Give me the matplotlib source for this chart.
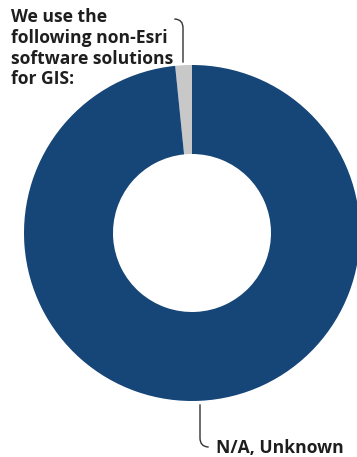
import matplotlib.pyplot as plt

# donut data
labels = ["We use the\nfollowing non-Esri\nsoftware solutions\nfor GIS:", "N/A, Unknown"]
values = [1.6, 98.4]
colors = ["#c8c8c8", "#154677"]

W, H = 357, 457
fig = plt.figure(figsize=(W / 100, H / 100), dpi=100)
ax = fig.add_axes([0, 0, 1, 1])

cx, cy = 192, H - 233
r_out, r_in = 168, 79
wedges, _ = ax.pie(values, colors=colors, startangle=90, counterclock=True,
                   radius=r_out, center=(cx, cy),
                   wedgeprops=dict(width=r_out - r_in, linewidth=0))

ax.set_xlim(0, W)
ax.set_ylim(0, H)
ax.set_aspect("equal")
ax.axis("off")

txt = dict(fontfamily="Open Sans", fontweight="bold", fontsize=12.6, color="#1e1e1e")

# heading text, linked to the small grey slice
ax.text(11, H - 8, labels[0], ha="left", va="top", linespacing=1.2, **txt)
ax.annotate("", xy=(183, H - 65), xytext=(172, H - 19),
            arrowprops=dict(arrowstyle="-", color="#333333", lw=1,
                            connectionstyle="angle,angleA=0,angleB=90,rad=9"))

# label for the big slice
ax.text(216, H - 448, labels[1], ha="left", va="center", **txt)
ax.annotate("", xy=(200, H - 402), xytext=(211, H - 447),
            arrowprops=dict(arrowstyle="-", color="#333333", lw=1,
                            connectionstyle="angle,angleA=0,angleB=90,rad=9"))

fig.savefig("out.png", dpi=100)
